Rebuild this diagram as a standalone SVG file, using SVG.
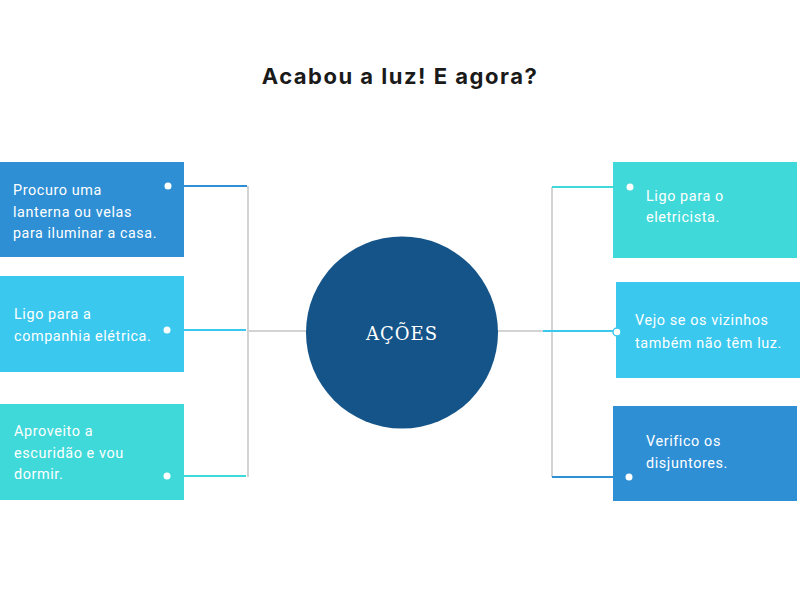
<svg xmlns="http://www.w3.org/2000/svg" width="800" height="600" viewBox="0 0 800 600">
<style>
.t{font-family:Roboto,"Noto Sans",sans-serif;font-size:14.4px;fill:#ffffff;letter-spacing:0.6px}
.title{font-family:Inter,"Liberation Sans",sans-serif;font-size:22px;font-weight:bold;fill:#1a1a1a;letter-spacing:1.5px}
.gray{stroke:#d3d3d3;stroke-width:2;fill:none}
.dot{fill:#ffffff}
</style>
<rect width="800" height="600" fill="#ffffff"/>
<text class="title" x="400" y="84" text-anchor="middle">Acabou a luz! E agora?</text>
<g id="connectors">
<line class="gray" x1="248" y1="186" x2="248" y2="477"/>
<line class="gray" x1="248" y1="331" x2="306" y2="331"/>
<line class="gray" x1="552" y1="187" x2="552" y2="477"/>
<line class="gray" x1="498" y1="331" x2="552" y2="331"/>
<line x1="184" y1="186" x2="247" y2="186" stroke="#2E8FD5" stroke-width="2"/>
<line x1="184" y1="330" x2="246" y2="330" stroke="#3AC8EE" stroke-width="2"/>
<line x1="184" y1="476" x2="246" y2="476" stroke="#3FD9D9" stroke-width="2"/>
<line x1="552" y1="187" x2="613" y2="187" stroke="#3FD9D9" stroke-width="2"/>
<line x1="543" y1="331" x2="616" y2="331" stroke="#3AC8EE" stroke-width="2"/>
<line x1="552" y1="477" x2="613" y2="477" stroke="#2E8FD5" stroke-width="2"/>
</g>
<g id="center">
<circle cx="402" cy="332.5" r="96" fill="#155489"/>
<text x="402" y="340" text-anchor="middle" font-family="'DejaVu Serif',serif" font-size="18" fill="#ffffff" letter-spacing="1">AÇÕES</text>
</g>
<g id="node1">
<rect x="0" y="162" width="184" height="95" fill="#2E8FD5"/>
<circle class="dot" cx="168" cy="186" r="3.5"/>
<text class="t" x="13" y="195">Procuro uma</text>
<text class="t" x="13" y="217">lanterna ou velas</text>
<text class="t" x="13" y="238" textLength="144" lengthAdjust="spacingAndGlyphs">para iluminar a casa.</text>
</g>
<g id="node2">
<rect x="0" y="276" width="184" height="96" fill="#3AC8EE"/>
<circle class="dot" cx="167" cy="330" r="3.5"/>
<text class="t" x="14" y="319">Ligo para a</text>
<text class="t" x="14" y="341">companhia elétrica.</text>
</g>
<g id="node3">
<rect x="0" y="404" width="184" height="96" fill="#3FD9D9"/>
<circle class="dot" cx="167" cy="476" r="3.5"/>
<text class="t" x="14" y="436">Aproveito a</text>
<text class="t" x="14" y="458">escuridão e vou</text>
<text class="t" x="14" y="479">dormir.</text>
</g>
<g id="node4">
<rect x="613" y="162" width="184" height="96" fill="#3FD9D9"/>
<circle class="dot" cx="630" cy="187" r="3.5"/>
<text class="t" x="646" y="201">Ligo para o</text>
<text class="t" x="646" y="222">eletricista.</text>
</g>
<g id="node5">
<rect x="616" y="282" width="184" height="96" fill="#3AC8EE"/>
<circle cx="617" cy="332" r="4" fill="#ffffff" stroke="#3AC8EE" stroke-width="1.5"/>
<text class="t" x="635" y="325">Vejo se os vizinhos</text>
<text class="t" x="635" y="348">também não têm luz.</text>
</g>
<g id="node6">
<rect x="613" y="406" width="184" height="95" fill="#2E8FD5"/>
<circle class="dot" cx="629" cy="477" r="3.5"/>
<text class="t" x="646" y="446">Verifico os</text>
<text class="t" x="646" y="468">disjuntores.</text>
</g>
</svg>
